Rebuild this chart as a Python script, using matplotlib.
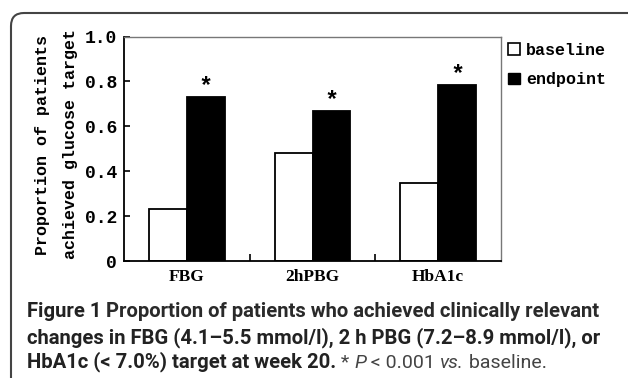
import matplotlib.pyplot as plt
import numpy as np
from matplotlib.patches import FancyBboxPatch, Patch
from matplotlib.transforms import IdentityTransform

# -----------------------------
# Data
# -----------------------------
categories = ['FBG', '2hPBG', 'HbA1c']
baseline = [0.231, 0.483, 0.348]
endpoint = [0.730, 0.668, 0.785]
yticks = [0, 0.2, 0.4, 0.6, 0.8, 1.0]
ytick_labels = ['0', '0.2', '0.4', '0.6', '0.8', '1.0']

W, H = 628, 378
mono = 'Liberation Mono'
cap_font = 'Roboto'
cap_size = 14.6


def main():
    fig = plt.figure(figsize=(W / 100, H / 100), dpi=100)
    ax = fig.add_axes([124 / W, 1 - 261 / H, 377 / W, 224.5 / H])

    x = np.arange(len(categories))
    w = 0.3
    ax.bar(x - w / 2, baseline, w, color='white', edgecolor='black', linewidth=1.3)
    ax.bar(x + w / 2, endpoint, w, color='black', edgecolor='black', linewidth=1.3)

    # significance stars
    for xi, v in zip(x, endpoint):
        ax.annotate('*', (xi + w / 2, v), xytext=(0, -1), textcoords='offset points',
                    ha='center', va='bottom', fontsize=17, fontweight='bold',
                    family=mono)

    ax.set_xlim(-0.5, 2.5)
    ax.set_ylim(0, 1.0)
    ax.set_xticks(x)
    ax.set_xticklabels(categories, family='Liberation Serif', fontweight='bold', fontsize=12.5)
    ax.set_xticks([0.5, 1.5], minor=True)
    ax.tick_params(axis='x', which='major', length=0, pad=6)
    ax.tick_params(axis='x', which='minor', direction='in', length=5, width=1.2)

    ax.set_yticks(yticks)
    ax.set_yticklabels(ytick_labels, family=mono, fontweight='bold', fontsize=13)
    ax.tick_params(axis='y', direction='in', length=4, width=1.2, pad=5)

    for s in ['left', 'bottom']:
        ax.spines[s].set_linewidth(1.3)
    for s in ['top', 'right']:
        ax.spines[s].set_color('#777777')
        ax.spines[s].set_linewidth(1.0)

    # y label, two lines
    fig.text(43 / W, 1 - 145 / H, 'Proportion of patients', rotation=90,
             ha='center', va='center', family=mono, fontweight='bold', fontsize=12)
    fig.text(70 / W, 1 - 144 / H, 'achieved glucose target', rotation=90,
             ha='center', va='center', family=mono, fontweight='bold', fontsize=12)

    # legend
    handles = [Patch(facecolor='white', edgecolor='black', linewidth=1.2),
               Patch(facecolor='black', edgecolor='black')]
    fig.legend(handles, ['baseline', 'endpoint'], loc='upper left',
               bbox_to_anchor=(508 / W, 1 - 43 / H), frameon=False,
               prop={'family': mono, 'weight': 'bold', 'size': 12},
               handlelength=0.7, handleheight=0.7, handletextpad=0.4,
               labelspacing=0.85, borderpad=0, borderaxespad=0)

    # rounded frame
    frame = FancyBboxPatch((11, -30), 640, H - 13 + 30, boxstyle='round,pad=0,rounding_size=13',
                           transform=IdentityTransform(), facecolor='none',
                           edgecolor='#444444', linewidth=1.5, clip_on=False)
    fig.patches.append(frame)

    # caption
    cap = dict(family=cap_font, fontsize=cap_size, color='#222222', va='baseline',
               fontweight='bold')
    t1 = fig.text(27 / W, 1 - 317 / H, 'Figure 1', **cap)
    ax.annotate(' Proportion of patients who achieved clinically relevant', (1, 0),
                xycoords=t1, ha='left', va='bottom', family=cap_font, fontsize=cap_size,
                color='#2a2a2a', fontweight='bold', annotation_clip=False)
    fig.text(27 / W, 1 - 343 / H,
             'changes in FBG (4.1\u20135.5 mmol/l), 2 h PBG (7.2\u20138.9 mmol/l), or', **cap)
    t3 = fig.text(27 / W, 1 - 367 / H, 'HbA1c (< 7.0%) target at week 20.', **cap)
    reg = dict(family=cap_font, fontsize=cap_size - 0.6, color='#444444', fontweight='normal',
               ha='left', va='bottom', annotation_clip=False)
    t4 = ax.annotate(' * ', (1, 0), xycoords=t3, **reg)
    t5 = ax.annotate('P', (1, 0), xycoords=t4, style='italic', **reg)
    t6 = ax.annotate(' < 0.001 ', (1, 0), xycoords=t5, **reg)
    t7 = ax.annotate('vs.', (1, 0), xycoords=t6, style='italic', **reg)
    ax.annotate(' baseline.', (1, 0), xycoords=t7, **reg)

    plt.savefig('out.png', dpi=100)


if __name__ == "__main__":
    main()
